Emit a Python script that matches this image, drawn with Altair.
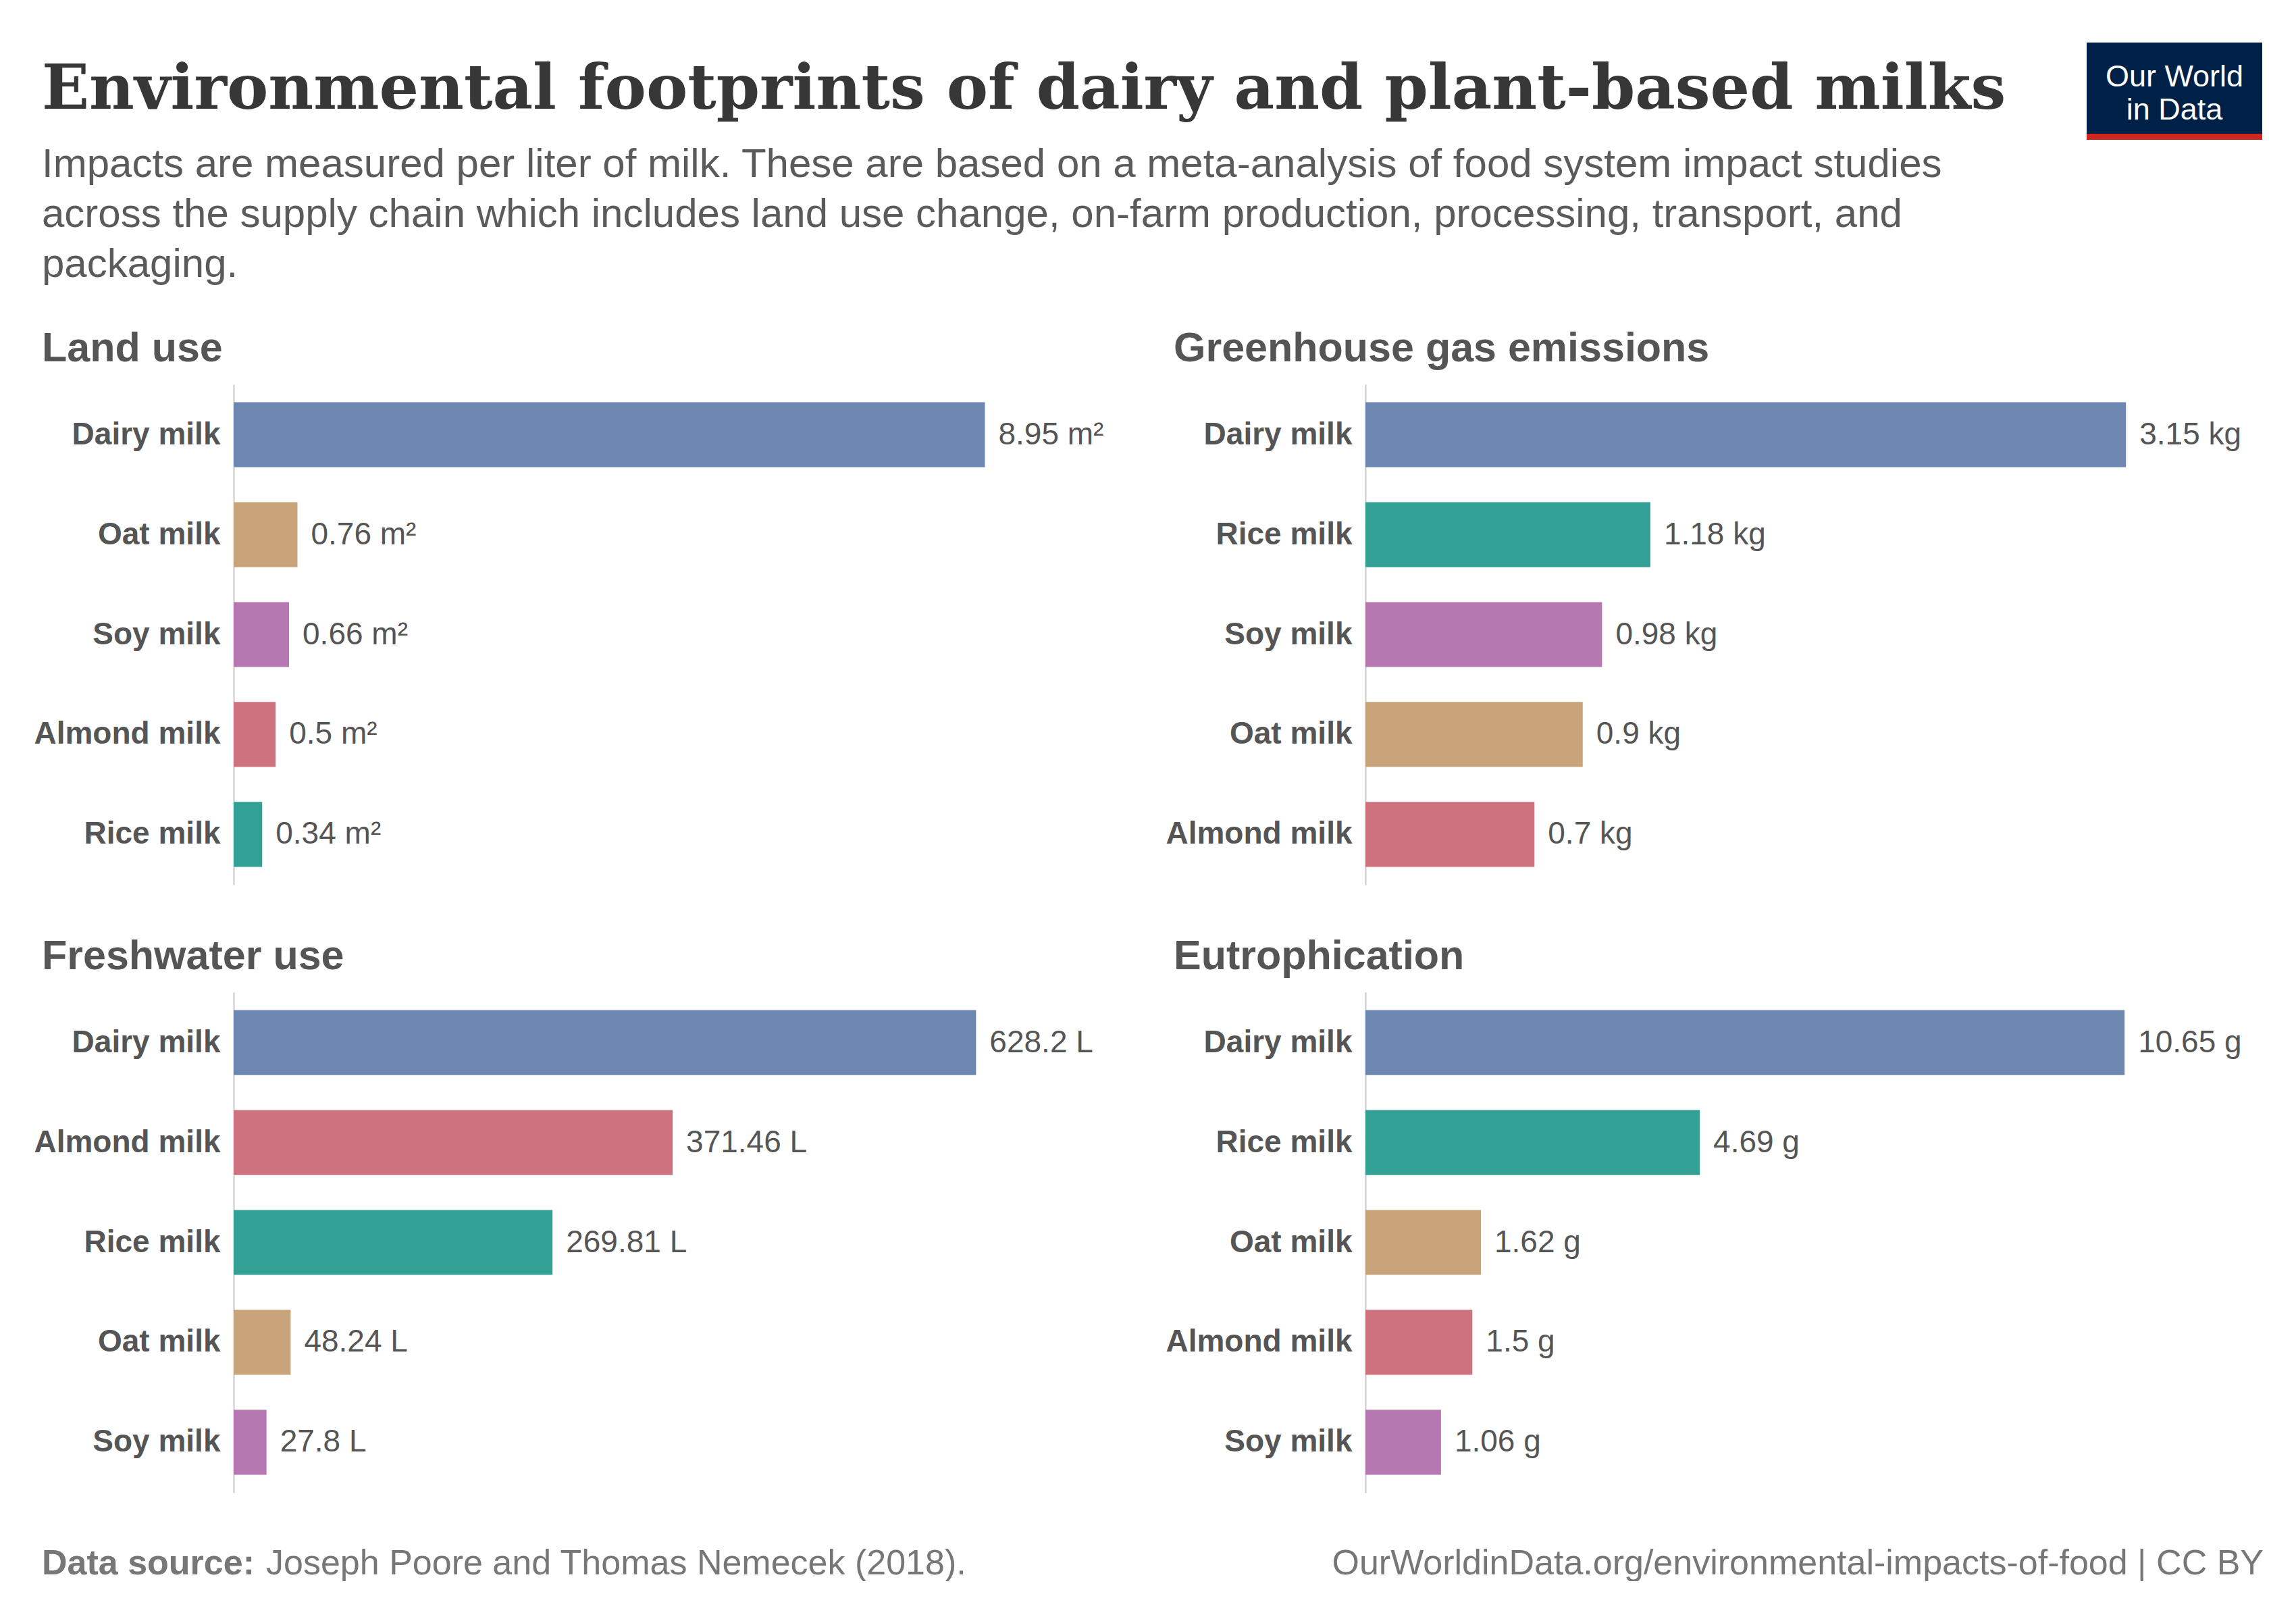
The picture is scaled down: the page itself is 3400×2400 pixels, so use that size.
import altair as alt
import pandas as pd

panel_titles = ["Land use", "Greenhouse gas emissions", "Freshwater use", "Eutrophication"]
panel_milks = [
    ["Dairy milk", "Oat milk", "Soy milk", "Almond milk", "Rice milk"],
    ["Dairy milk", "Rice milk", "Soy milk", "Oat milk", "Almond milk"],
    ["Dairy milk", "Almond milk", "Rice milk", "Oat milk", "Soy milk"],
    ["Dairy milk", "Rice milk", "Oat milk", "Almond milk", "Soy milk"],
]
panel_values = [
    [8.95, 0.76, 0.66, 0.5, 0.34],
    [3.15, 1.18, 0.98, 0.9, 0.7],
    [628.2, 371.46, 269.81, 48.24, 27.8],
    [10.65, 4.69, 1.62, 1.5, 1.06],
]
panel_units = [" m²", " kg", " L", " g"]
panel_axis_max = [10.7, 3.72, 760, 12.6]
milk_names = ["Dairy milk", "Oat milk", "Soy milk", "Almond milk", "Rice milk"]
milk_colors = ["#6D87B1", "#C9A47A", "#B678B0", "#CF727F", "#33A096"]

rows = []
for t, ms, vs, u, mx in zip(panel_titles, panel_milks, panel_values, panel_units, panel_axis_max):
    for r, (m, v) in enumerate(zip(ms, vs)):
        rows.append(dict(panel=t, milk=m, value=v, label=f"{v:g}{u}", rank=r + 1, kind="bar"))
    rows.append(dict(panel=t, milk=ms[0], value=mx, label="", rank=0, kind="max"))
df = pd.DataFrame(rows)

FONT = "Liberation Sans"
W, H = 1330, 741
X0 = -284

y = alt.Y("milk:N", sort=alt.EncodingSortField("rank", op="min", order="ascending"), title=None,
          scale=alt.Scale(paddingInner=0.35, paddingOuter=0.18),
          axis=alt.Axis(ticks=False, labelFontSize=46, labelFontWeight="bold",
                        labelColor="#555", labelFont=FONT, labelPadding=20, labelLimit=500,
                        domainColor="#c8c8c8", domainWidth=2))
x = alt.X("value:Q", scale=alt.Scale(nice=False, zero=True), axis=None)

base = alt.Chart()
bars_only = base.transform_filter(alt.datum.kind == "bar")
bars = bars_only.mark_bar().encode(
    x=x, y=y,
    color=alt.Color("milk:N", scale=alt.Scale(domain=milk_names, range=milk_colors), legend=None))
vals = bars_only.mark_text(align="left", dx=20, fontSize=46, font=FONT, color="#555").encode(
    x=x, y=y, text="label:N")
maxpt = base.transform_filter(alt.datum.kind == "max").mark_point(opacity=0).encode(x=x, y=y)
ptitle = base.transform_filter(alt.datum.kind == "max").mark_text(
    align="left", baseline="alphabetic", fontSize=61, fontWeight="bold", color="#555", font=FONT).encode(
    x=alt.value(X0), y=alt.value(-34), text="panel:N")

title_txt = "Environmental footprints of dairy and plant-based milks"
sub_lines = ["Impacts are measured per liter of milk. These are based on a meta-analysis of food system impact studies",
             "across the supply chain which includes land use change, on-farm production, processing, transport, and",
             "packaging."]
first = base.transform_filter((alt.datum.kind == "max") & (alt.datum.panel == "Land use"))
third = base.transform_filter((alt.datum.kind == "max") & (alt.datum.panel == "Freshwater use"))
hdr = [
    first.mark_text(align="left", baseline="alphabetic", fontSize=92, fontWeight="bold",
                    font="DejaVu Serif", color="#373737").encode(
        x=alt.value(X0), y=alt.value(-408), text=alt.value(title_txt)),
    *[first.mark_text(align="left", baseline="alphabetic", fontSize=60, font=FONT, color="#5b5b5b").encode(
        x=alt.value(X0), y=alt.value(-307 + i * 74), text=alt.value(s)) for i, s in enumerate(sub_lines)],
    first.mark_rect(color="#002147").encode(x=alt.value(2744), x2=alt.value(3004),
                                             y=alt.value(-506), y2=alt.value(-371)),
    first.mark_rect(color="#CE261E").encode(x=alt.value(2744), x2=alt.value(3004),
                                             y=alt.value(-371), y2=alt.value(-362)),
    first.mark_text(align="center", fontSize=45, font=FONT, color="white").encode(
        x=alt.value(2874), y=alt.value(-455), text=alt.value("Our World")),
    first.mark_text(align="center", fontSize=45, font=FONT, color="white").encode(
        x=alt.value(2874), y=alt.value(-406), text=alt.value("in Data")),
    third.mark_text(align="left", baseline="alphabetic", fontSize=52, font=FONT, color="#777",
                    fontWeight="bold").encode(
        x=alt.value(X0), y=alt.value(862), text=alt.value("Data source:")),
    third.mark_text(align="left", baseline="alphabetic", fontSize=52, font=FONT, color="#777").encode(
        x=alt.value(X0 + 332), y=alt.value(862), text=alt.value("Joseph Poore and Thomas Nemecek (2018).")),
    third.mark_text(align="right", baseline="alphabetic", fontSize=52, font=FONT, color="#777").encode(
        x=alt.value(3006), y=alt.value(862),
        text=alt.value("OurWorldinData.org/environmental-impacts-of-food | CC BY")),
]

layered = alt.layer(bars, vals, maxpt, ptitle, *hdr).properties(width=W, height=H)
chart = layered.facet(
    facet=alt.Facet("panel:N", sort=panel_titles,
                    header=alt.Header(labels=False, labelExpr="''", labelFontSize=1, title=None)),
    columns=2, data=df, bounds="flush", spacing={"row": 159, "column": 346},
).resolve_scale(x="independent", y="independent").configure_view(stroke=None).properties(
    padding={"left": 41, "top": 44, "right": 0, "bottom": 0}, background="white")
chart.save("out.html", embed_options={"renderer": "svg", "actions": False})
